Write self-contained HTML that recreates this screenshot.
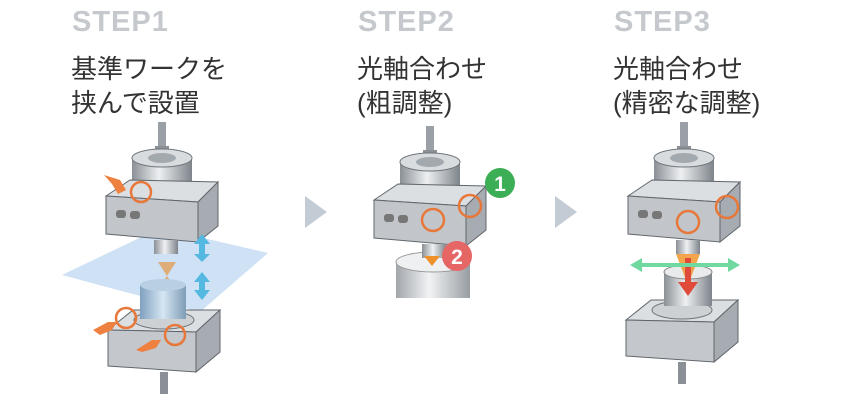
<!DOCTYPE html>
<html><head><meta charset="utf-8"><style>
body{margin:0;background:#fff;width:848px;height:400px;overflow:hidden;position:relative;font-family:"Liberation Sans","Noto Sans CJK JP",sans-serif}
.st{position:absolute;top:6px;font-size:29px;font-weight:bold;color:#c5c8cc;letter-spacing:1px}
.jp{position:absolute;top:52px;font-size:26px;line-height:34px;color:#333}
svg{position:absolute;left:0;top:0}
</style></head><body>
<div class="st" style="left:72px">STEP1</div>
<div class="st" style="left:358px">STEP2</div>
<div class="st" style="left:614px">STEP3</div>
<div class="jp" style="left:71px">基準ワークを<br>挟んで設置</div>
<div class="jp" style="left:357px">光軸合わせ<br>(粗調整)</div>
<div class="jp" style="left:613px">光軸合わせ<br>(精密な調整)</div>
<svg width="848" height="400" viewBox="0 0 848 400">
<defs>
<linearGradient id="cy" x1="0" x2="1"><stop offset="0" stop-color="#8a9096"/><stop offset=".45" stop-color="#eef0f2"/><stop offset="1" stop-color="#7d848a"/></linearGradient>
<linearGradient id="gl" x1="0" x2="1"><stop offset="0" stop-color="#7fa0bf"/><stop offset=".5" stop-color="#d6e6f3"/><stop offset="1" stop-color="#7f9cb6"/></linearGradient>
<g id="up">
<rect x="52" y="-58" width="8" height="32" fill="#9aa0a6"/>
<rect x="49" y="-34" width="14" height="12" fill="#8a9096"/>
<rect x="26" y="-22" width="60" height="34" fill="url(#cy)"/>
<ellipse cx="56" cy="-22" rx="30" ry="9" fill="#d8dcdf" stroke="#6f767c"/>
<ellipse cx="56" cy="-22" rx="14" ry="5" fill="#a2a9af"/>
<polygon points="0,16 24,0 112,2 92,22" fill="#dcdfe2" stroke="#60666c"/>
<polygon points="0,16 92,22 92,62 0,54" fill="#c2c6ca" stroke="#60666c"/>
<polygon points="92,22 112,2 112,46 92,62" fill="#a6acb1" stroke="#60666c"/>
<rect x="10" y="30" width="10" height="8" rx="3" fill="#777"/><rect x="24" y="31" width="10" height="8" rx="3" fill="#777"/>
<rect x="48" y="60" width="24" height="14" fill="url(#cy)"/>
</g>
<g id="lo">
<polygon points="0,30 25,10 112,10 88,32" fill="#dcdfe2" stroke="#60666c"/>
<polygon points="0,30 88,32 88,72 0,66" fill="#c4c8cc" stroke="#60666c"/>
<polygon points="88,32 112,10 112,52 88,72" fill="#a6acb1" stroke="#60666c"/>
<ellipse cx="56" cy="20" rx="30" ry="9" fill="#cdd1d4" stroke="#6f767c"/>
<rect x="52" y="72" width="8" height="22" fill="#8a9096"/>
</g>
</defs>
<polygon points="62,275 160,228 268,253 200,312" fill="#c5dcf3" opacity=".85"/>
<use href="#up" x="106" y="180"/>
<polygon points="158,262 176,262 167,276 178,292 156,292 167,276" fill="#e4a05a" opacity=".8"/>
<use href="#lo" x="108" y="300"/>
<rect x="140" y="285" width="46" height="34" fill="url(#gl)"/>
<ellipse cx="163" cy="285" rx="23" ry="6" fill="#b9d0e4"/>
<g fill="#54b8e0"><polygon points="202,234 210,244 194,244"/><rect x="199" y="244" width="6" height="10"/><polygon points="202,262 194,254 210,254"/>
<polygon points="202,272 210,282 194,282"/><rect x="199" y="282" width="6" height="8"/><polygon points="202,300 194,290 210,290"/></g>
<g fill="none" stroke="#e8773a" stroke-width="2.5"><circle cx="141" cy="192" r="10"/><circle cx="126" cy="318" r="10"/><circle cx="175" cy="335" r="10"/></g>
<g fill="#ee8040"><polygon points="104,175 120,180 126,190 118,194 112,184"/><polygon points="93,330 108,322 117,322 112,330 100,335"/><polygon points="136,350 152,340 161,340 156,348 142,352"/></g>
<polygon points="305,196 327,212 305,228" fill="#c3ccd4"/>
<polygon points="555,196 577,212 555,228" fill="#c3ccd4"/>
<rect x="396" y="262" width="74" height="36" fill="url(#cy)" opacity=".8"/>
<ellipse cx="433" cy="262" rx="37" ry="10" fill="#eef0f2" stroke="#999"/>
<use href="#up" x="374" y="184"/>
<polygon points="424,256 440,256 432,266" fill="#f0902a"/>
<g fill="none" stroke="#e8773a" stroke-width="2.5"><circle cx="433" cy="220" r="11"/><circle cx="470" cy="206" r="11"/></g>
<circle cx="500" cy="183" r="15" fill="#3cae56"/><text x="500" y="191" font-size="21" font-weight="bold" fill="#fff" text-anchor="middle">1</text>
<circle cx="457" cy="256" r="15" fill="#e66565"/><text x="457" y="264" font-size="21" font-weight="bold" fill="#fff" text-anchor="middle">2</text>
<use href="#up" x="628" y="180"/>
<use href="#lo" x="626" y="290"/>
<rect x="664" y="272" width="48" height="34" fill="url(#cy)"/>
<ellipse cx="688" cy="272" rx="24" ry="7" fill="#e8eaec" stroke="#888"/>
<polygon points="676,254 700,254 688,285" fill="#f29a3a" opacity=".9"/>
<rect x="685" y="258" width="6" height="26" fill="#e04a3a"/><polygon points="678,282 698,282 688,296" fill="#e04a3a"/>
<g fill="#6fd9a0"><rect x="640" y="263" width="90" height="4"/><polygon points="630,265 642,258 642,272"/><polygon points="740,265 728,258 728,272"/></g>
<g fill="none" stroke="#e8773a" stroke-width="2.5"><circle cx="688" cy="222" r="11"/><circle cx="727" cy="207" r="11"/></g>
</svg>
</body></html>
